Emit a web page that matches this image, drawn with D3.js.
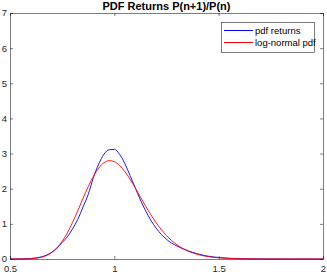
<!DOCTYPE html>
<html><head><meta charset="utf-8">
<script src="https://cdn.jsdelivr.net/npm/d3@7/dist/d3.min.js"></script>
<style>body{margin:0;background:#fff}svg{display:block}</style>
</head><body><svg id="c" width="327" height="274"></svg>
<script>
const title = "PDF Returns P(n+1)/P(n)";
const seriesNames = ["pdf returns", "log-normal pdf"];
const seriesColors = ["#0000ff", "#ff0000"];
const xTicks = [0.5, 1, 1.5, 2];
const yTicks = [0, 1, 2, 3, 4, 5, 6, 7];
const xs = [0.5,0.55,0.6,0.625,0.65,0.675,0.7,0.725,0.75,0.775,0.8,0.825,0.85,0.875,0.9,0.925,0.95,0.975,1.0,1.025,1.05,1.075,1.1,1.125,1.15,1.175,1.2,1.225,1.25,1.275,1.3,1.325,1.35,1.375,1.4,1.45,1.5,1.55,1.6,1.7,1.8,2.0];
const pdfReturns = [0,0.002,0.015,0.03,0.06,0.11,0.19,0.31,0.47,0.63,0.86,1.13,1.48,1.84,2.32,2.70,2.98,3.11,3.12,2.98,2.72,2.38,2.03,1.68,1.37,1.10,0.88,0.70,0.56,0.45,0.37,0.30,0.24,0.19,0.145,0.08,0.042,0.02,0.009,0.002,0.0005,0];
const logNormal = [0,0.001,0.009,0.022,0.049,0.099,0.184,0.316,0.502,0.746,1.042,1.376,1.724,2.060,2.355,2.587,2.737,2.798,2.770,2.663,2.491,2.272,2.023,1.763,1.504,1.259,1.036,0.838,0.667,0.523,0.405,0.310,0.234,0.175,0.129,0.068,0.035,0.017,0.008,0.002,0.0004,0];

const svg = d3.select("#c");
const L = 10, R = 323, T = 13, B = 259;
const x = d3.scaleLinear().domain([0.5, 2]).range([L, R]);
const y = d3.scaleLinear().domain([0, 7]).range([B, T]);
const axCol = "#262626", font = "Liberation Sans, Arial, sans-serif";

const series = [pdfReturns, logNormal];
const line = d3.line().x((d, i) => x(xs[i])).y(d => y(d)).curve(d3.curveMonotoneX);
series.forEach((s, k) => {
  svg.append("path").datum(s).attr("d", line).attr("fill", "none")
    .attr("stroke", seriesColors[k]).attr("stroke-width", 0.9);
});

// axes
const gx = svg.append("g").attr("transform", `translate(0,${B})`)
  .call(d3.axisBottom(x).tickValues(xTicks).tickSize(-3).tickPadding(6).tickFormat(d3.format("")));
const gxt = svg.append("g").attr("transform", `translate(0,${T})`)
  .call(d3.axisTop(x).tickValues(xTicks).tickSize(-3).tickFormat(""));
const gy = svg.append("g").attr("transform", `translate(${L},0)`)
  .call(d3.axisLeft(y).tickValues(yTicks).tickSize(-3).tickPadding(3).tickFormat(d3.format("d")));
const gyr = svg.append("g").attr("transform", `translate(${R},0)`)
  .call(d3.axisRight(y).tickValues(yTicks).tickSize(-3).tickFormat(""));
[gx, gxt, gy, gyr].forEach(g => {
  g.selectAll("path,line").attr("stroke", axCol).attr("stroke-width", 0.6);
  g.selectAll("text").attr("fill", axCol).attr("font-family", font).attr("font-size", 9.5);
});
gy.selectAll("text").attr("dy", "0.3em");

svg.append("text").attr("x", (L + R) / 2).attr("y", 9.5).attr("text-anchor", "middle")
  .attr("font-family", font).attr("font-size", 11).attr("font-weight", "bold").attr("fill", "#000")
  .text(title);

// legend
const lg = svg.append("g");
lg.append("rect").attr("x", 221.5).attr("y", 22.5).attr("width", 93).attr("height", 30)
  .attr("fill", "#fff").attr("stroke", axCol).attr("stroke-width", 0.6);
seriesNames.forEach((n, k) => {
  const yy = 30.5 + k * 12;
  lg.append("line").attr("x1", 224).attr("x2", 253).attr("y1", yy).attr("y2", yy)
    .attr("stroke", seriesColors[k]).attr("stroke-width", 1);
  lg.append("text").attr("x", 255).attr("y", yy).attr("dy", "0.35em")
    .attr("font-family", font).attr("font-size", 9.5).attr("fill", "#000").text(n);
});
</script></body></html>
